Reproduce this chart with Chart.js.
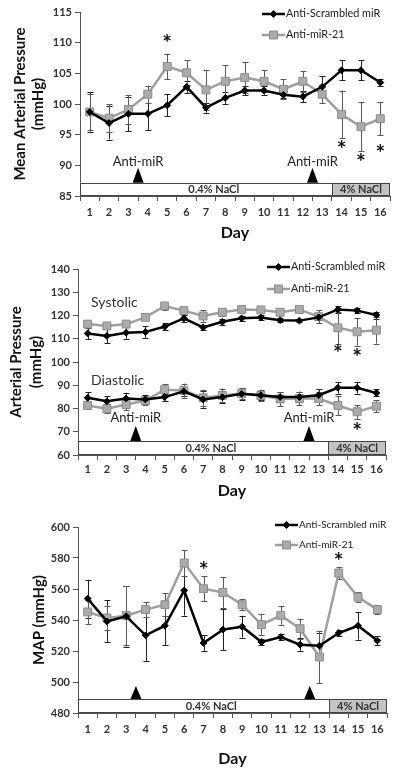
<!DOCTYPE html>
<html>
<head>
<meta charset="utf-8">
<script src="https://cdn.jsdelivr.net/npm/chart.js@4.4.1/dist/chart.umd.min.js"></script>
<style>
  html, body { margin: 0; padding: 0; background: #fff; }
  #wrap { position: relative; width: 400px; height: 774px; }
  canvas { position: absolute; left: 0; }
</style>
</head>
<body>
<div id="wrap">
  <canvas id="c1" width="400" height="250" style="top:0"></canvas>
  <canvas id="c2" width="400" height="260" style="top:250px"></canvas>
  <canvas id="c3" width="400" height="264" style="top:510px"></canvas>
</div>
<script>
// ---- data ----
var days = [1, 2, 3, 4, 5, 6, 7, 8, 9, 10, 11, 12, 13, 14, 15, 16];
var seriesNames = ['Anti-Scrambled miR', 'Anti-miR-21'];

// top panel: mean arterial pressure
var mapScr    = [98.7, 96.9, 98.4, 98.4, 99.8, 102.8, 99.4, 101.0, 102.2, 102.2, 101.5, 101.2, 102.8, 105.5, 105.5, 103.5];
var mapScrErr = [3.2, 2.7, 2.8, 2.7, 1.8, 1.0, 0.8, 1.0, 0.8, 0.7, 0.6, 0.9, 1.7, 1.6, 1.6, 0.6];
var mapMir    = [98.7, 97.7, 99.1, 101.6, 106.1, 105.1, 102.3, 103.7, 104.3, 103.7, 102.4, 103.7, 101.6, 98.3, 96.3, 97.6];
var mapMirErr = [2.9, 2.3, 2.3, 1.4, 2.1, 2.0, 3.3, 2.6, 2.5, 1.8, 1.6, 1.7, 1.5, 3.9, 4.0, 2.7];
var mapStars  = [[5, 110.5], [14, 93.3], [15, 91.1], [16, 92.5]];

// middle panel: systolic / diastolic
var sysScr    = [112.3, 111.2, 112.6, 112.9, 115.2, 118.8, 114.9, 117.3, 118.8, 119.1, 118.0, 117.8, 119.2, 122.6, 122.1, 120.2];
var sysScrErr = [2.5, 3.0, 2.6, 2.5, 1.6, 1.4, 1.2, 1.3, 1.0, 1.0, 0.8, 0.8, 1.2, 1.5, 1.0, 1.5];
var sysMir    = [116.3, 115.5, 116.3, 119.2, 124.1, 122.1, 119.8, 121.4, 122.6, 122.4, 121.4, 122.6, 119.5, 114.7, 113.0, 113.7];
var sysMirErr = [1.0, 1.2, 1.0, 1.0, 1.6, 1.2, 2.5, 1.5, 1.2, 1.2, 1.0, 1.0, 2.8, 7.0, 6.0, 5.8];
var diaScr    = [84.6, 83.1, 84.3, 83.9, 84.9, 87.4, 83.9, 84.9, 86.3, 85.7, 84.9, 84.9, 85.7, 88.9, 88.9, 86.7];
var diaScrErr = [2.5, 2.2, 2.5, 2.0, 1.5, 2.0, 3.5, 2.5, 2.5, 2.0, 2.0, 2.0, 2.5, 2.5, 2.5, 1.5];
var diaMir    = [81.3, 79.9, 81.7, 83.4, 88.1, 87.7, 84.6, 85.6, 86.4, 85.6, 84.1, 84.3, 84.3, 81.3, 78.6, 81.0];
var diaMirErr = [1.5, 2.0, 2.5, 2.0, 2.5, 3.0, 3.5, 3.0, 2.5, 2.5, 3.0, 3.0, 3.0, 4.0, 3.0, 2.5];
var bpStars   = [[14, 105.2], [15, 103.7], [15, 71.7]];

// bottom panel: MAP
var mapScr3    = [553.8, 539.1, 542.4, 530.1, 536.3, 559.1, 525.2, 533.8, 535.7, 525.8, 529.0, 524.1, 523.4, 531.6, 536.3, 526.7];
var mapScr3Err = [12.2, 13.5, 19.5, 16.5, 12.6, 16.3, 5.0, 13.0, 7.0, 2.0, 2.0, 4.0, 8.0, 2.0, 9.0, 3.0];
var mapMir3    = [545.2, 541.3, 542.8, 546.7, 549.9, 576.8, 560.2, 557.8, 549.9, 537.0, 543.0, 534.4, 516.1, 570.3, 554.8, 546.7];
var mapMir3Err = [7.8, 8.0, 19.0, 5.0, 7.6, 8.2, 8.0, 10.0, 3.6, 7.0, 6.0, 6.5, 17.0, 4.0, 3.0, 3.0];
var map3Stars  = [[7, 574.6], [14, 580.4]];

// injections and diet switch (in day units)
var injectionDays = [3.5, 12.5];
var saltSwitchDay = 13.5;
var saltLabels = ['0.4% NaCl', '4% NaCl'];

Chart.defaults.font.family = 'Lato, "Open Sans", sans-serif';
Chart.defaults.color = '#333';

function makeSeries(vals, errs, gray, showInLegend) {
    return {
        label: gray ? seriesNames[1] : seriesNames[0],
        data: days.map(function (d, i) { return { x: d, y: vals[i] }; }),
        errs: errs,
        gray: gray,
        inLegend: showInLegend,
        borderColor: gray ? '#9f9f9f' : '#000',
        borderWidth: 2.5,
        pointStyle: gray ? 'rect' : 'rectRot',
        pointRadius: gray ? 5.6 : 3.4,
        pointBackgroundColor: gray ? '#ababab' : '#000',
        pointBorderColor: gray ? '#8c8c8c' : '#000',
        pointBorderWidth: 1,
        fill: false,
        tension: 0
    };
}

// draws error bars, salt bar, triangles, notes, asterisks and legend
var decoPlugin = {
    id: 'deco',
    beforeDatasetsDraw: function (chart, args, opts) {
        var ctx = chart.ctx, area = chart.chartArea;
        var x = chart.scales.x, y = chart.scales.y;
        ctx.save();

        // salt bar
        var top = y.getPixelForValue(opts.barTop);
        var bottom = area.bottom;
        var split = x.getPixelForValue(saltSwitchDay);
        ctx.fillStyle = '#fff';
        ctx.fillRect(area.left, top, split - area.left, bottom - top);
        ctx.fillStyle = '#c3c3c3';
        ctx.fillRect(split, top, area.right - split, bottom - top);
        ctx.strokeStyle = '#444';
        ctx.lineWidth = 1;
        ctx.strokeRect(area.left + 0.5, Math.round(top) + 0.5, area.right - area.left - 1, Math.round(bottom - top) - 1);
        ctx.beginPath();
        ctx.moveTo(Math.round(split) + 0.5, top);
        ctx.lineTo(Math.round(split) + 0.5, bottom);
        ctx.stroke();
        ctx.fillStyle = '#333';
        ctx.font = 'bold 11px Lato, sans-serif';
        ctx.textAlign = 'center';
        ctx.textBaseline = 'middle';
        var midY = (top + bottom) / 2 + 0.5;
        ctx.fillText(saltLabels[0], x.getPixelForValue(7.4), midY);
        ctx.fillText(saltLabels[1], (split + area.right) / 2, midY);

        // injection triangles
        ctx.fillStyle = '#000';
        injectionDays.forEach(function (d) {
            var px = x.getPixelForValue(d);
            ctx.beginPath();
            ctx.moveTo(px - 5.5, top);
            ctx.lineTo(px + 5.5, top);
            ctx.lineTo(px, top - opts.triH);
            ctx.closePath();
            ctx.fill();
            if (opts.antiY) {
                ctx.font = '13px Lato, sans-serif';
                ctx.fillStyle = '#222';
                ctx.fillText('Anti-miR', px, y.getPixelForValue(opts.antiY));
                ctx.fillStyle = '#000';
            }
        });

        // free text notes
        (opts.notes || []).forEach(function (n) {
            ctx.font = '14px Lato, sans-serif';
            ctx.fillStyle = '#333';
            ctx.textAlign = 'left';
            ctx.fillText(n.text, x.getPixelForValue(n.day), y.getPixelForValue(n.value));
        });

        // error bars
        chart.data.datasets.forEach(function (ds) {
            ctx.strokeStyle = ds.gray ? '#5a5a5a' : '#222';
            ctx.lineWidth = 1;
            ds.data.forEach(function (p, i) {
                var px = Math.round(x.getPixelForValue(p.x)) + 0.5;
                var hi = y.getPixelForValue(p.y + ds.errs[i]);
                var lo = y.getPixelForValue(p.y - ds.errs[i]);
                ctx.beginPath();
                ctx.moveTo(px, hi); ctx.lineTo(px, lo);
                ctx.moveTo(px - 3, Math.round(hi) + 0.5); ctx.lineTo(px + 3, Math.round(hi) + 0.5);
                ctx.moveTo(px - 3, Math.round(lo) + 0.5); ctx.lineTo(px + 3, Math.round(lo) + 0.5);
                ctx.stroke();
            });
        });
        ctx.restore();
    },
    afterDatasetsDraw: function (chart, args, opts) {
        var ctx = chart.ctx;
        var x = chart.scales.x, y = chart.scales.y;
        ctx.save();

        // significance stars
        ctx.fillStyle = '#111';
        ctx.font = 'bold 23px Lato, sans-serif';
        ctx.textAlign = 'center';
        ctx.textBaseline = 'middle';
        opts.stars.forEach(function (s) {
            ctx.fillText('*', x.getPixelForValue(s[0]), y.getPixelForValue(s[1]) + 4);
        });

        // legend
        var lg = opts.legend;
        var rows = chart.data.datasets.filter(function (ds) { return ds.inLegend; });
        rows.forEach(function (ds, i) {
            var ly = lg.y + i * lg.gap;
            ctx.strokeStyle = ds.borderColor;
            ctx.lineWidth = 2.5;
            ctx.beginPath();
            ctx.moveTo(lg.x, ly);
            ctx.lineTo(lg.x + 23, ly);
            ctx.stroke();
            ctx.lineWidth = 1;
            ctx.fillStyle = ds.pointBackgroundColor;
            ctx.strokeStyle = ds.pointBorderColor;
            Chart.helpers.drawPoint(ctx, {
                pointStyle: ds.pointStyle,
                radius: ds.pointRadius,
                borderWidth: 1
            }, lg.x + 11.5, ly);
            ctx.fillStyle = '#222';
            ctx.font = lg.size + 'px Lato, sans-serif';
            ctx.textAlign = 'left';
            ctx.textBaseline = 'middle';
            ctx.fillText(ds.label, lg.x + 24, ly);
        });
        ctx.restore();
    }
};

function makeChart(id, cfg) {
    var halfTicks = [];
    for (var v = 0.5; v <= 16.5; v += 0.5) halfTicks.push({ value: v });

    return new Chart(document.getElementById(id), {
        type: 'line',
        data: { datasets: cfg.datasets },
        plugins: [decoPlugin],
        options: {
            responsive: false,
            animation: false,
            layout: { padding: { top: cfg.padTop, right: cfg.padRight, left: 0, bottom: 0 } },
            plugins: {
                legend: { display: false },
                tooltip: { enabled: false },
                deco: cfg.deco
            },
            scales: {
                x: {
                    type: 'linear',
                    min: 0.5,
                    max: 16.5,
                    afterBuildTicks: function (scale) { scale.ticks = halfTicks.slice(); },
                    afterFit: function (scale) { scale.height = cfg.xHeight; },
                    ticks: {
                        autoSkip: false,
                        maxRotation: 0,
                        padding: cfg.xTickPad,
                        color: '#333',
                        font: { size: 11, weight: 'bold' },
                        callback: function (val) { return Number.isInteger(val) ? String(val) : ''; }
                    },
                    grid: {
                        drawOnChartArea: false,
                        tickLength: 5,
                        tickColor: function (c) {
                            return c.tick && Number.isInteger(c.tick.value) ? 'rgba(0,0,0,0)' : '#555';
                        }
                    },
                    border: { color: '#555', width: 1 },
                    title: {
                        display: true,
                        text: 'Day',
                        color: '#111',
                        font: { size: 16, weight: 'bold' },
                        padding: { top: 0, bottom: cfg.dayPad }
                    }
                },
                y: {
                    min: cfg.yMin,
                    max: cfg.yMax,
                    afterFit: function (scale) { scale.width = cfg.yWidth; },
                    ticks: {
                        stepSize: cfg.yStep,
                        padding: 3,
                        color: '#333',
                        font: { size: 11, weight: 'bold' }
                    },
                    grid: { drawOnChartArea: false, tickLength: 5, color: '#555' },
                    border: { color: '#555', width: 1 },
                    title: {
                        display: true,
                        text: cfg.yTitle,
                        color: '#111',
                        font: { size: 15, weight: 'bold', lineHeight: cfg.titleLH },
                        padding: { top: cfg.titlePad, bottom: 0 }
                    }
                }
            }
        }
    });
}

makeChart('c1', {
    datasets: [makeSeries(mapScr, mapScrErr, false, true), makeSeries(mapMir, mapMirErr, true, true)],
    yMin: 85, yMax: 115, yStep: 5,
    padTop: 12, padRight: 10, yWidth: 80, xHeight: 54, xTickPad: 5, dayPad: 8,
    yTitle: ['Mean Arterial Pressure', '(mmHg)'], titleLH: 1.2, titlePad: 11,
    deco: { barTop: 87.15, triH: 15, antiY: 90.5, stars: mapStars, legend: { x: 262, y: 14, gap: 21, size: 10.8 } }
});

makeChart('c2', {
    datasets: [
        makeSeries(sysScr, sysScrErr, false, true), makeSeries(sysMir, sysMirErr, true, true),
        makeSeries(diaScr, diaScrErr, false, false), makeSeries(diaMir, diaMirErr, true, false)
    ],
    yMin: 60, yMax: 140, yStep: 10,
    padTop: 19, padRight: 14, yWidth: 78, xHeight: 55, xTickPad: 3, dayPad: 10,
    yTitle: ['Arterial Pressure', '(mmHg)'], titleLH: 1.35, titlePad: 6,
    deco: {
        barTop: 66.0, triH: 15, antiY: 75.9, stars: bpStars,
        legend: { x: 267, y: 17, gap: 22, size: 10.8 },
        notes: [{ text: 'Systolic', day: 1.18, value: 125.4 }, { text: 'Diastolic', day: 1.18, value: 92.0 }]
    }
});

makeChart('c3', {
    datasets: [makeSeries(mapScr3, mapScr3Err, false, true), makeSeries(mapMir3, mapMir3Err, true, true)],
    yMin: 480, yMax: 600, yStep: 20,
    padTop: 17, padRight: 13, yWidth: 78, xHeight: 61, xTickPad: 5, dayPad: 6,
    yTitle: 'MAP (mmHg)', titleLH: 1.2, titlePad: 30,
    deco: { barTop: 489.0, triH: 13, antiY: null, stars: map3Stars, legend: { x: 275, y: 15, gap: 20, size: 10 } }
});
</script>
</body>
</html>
